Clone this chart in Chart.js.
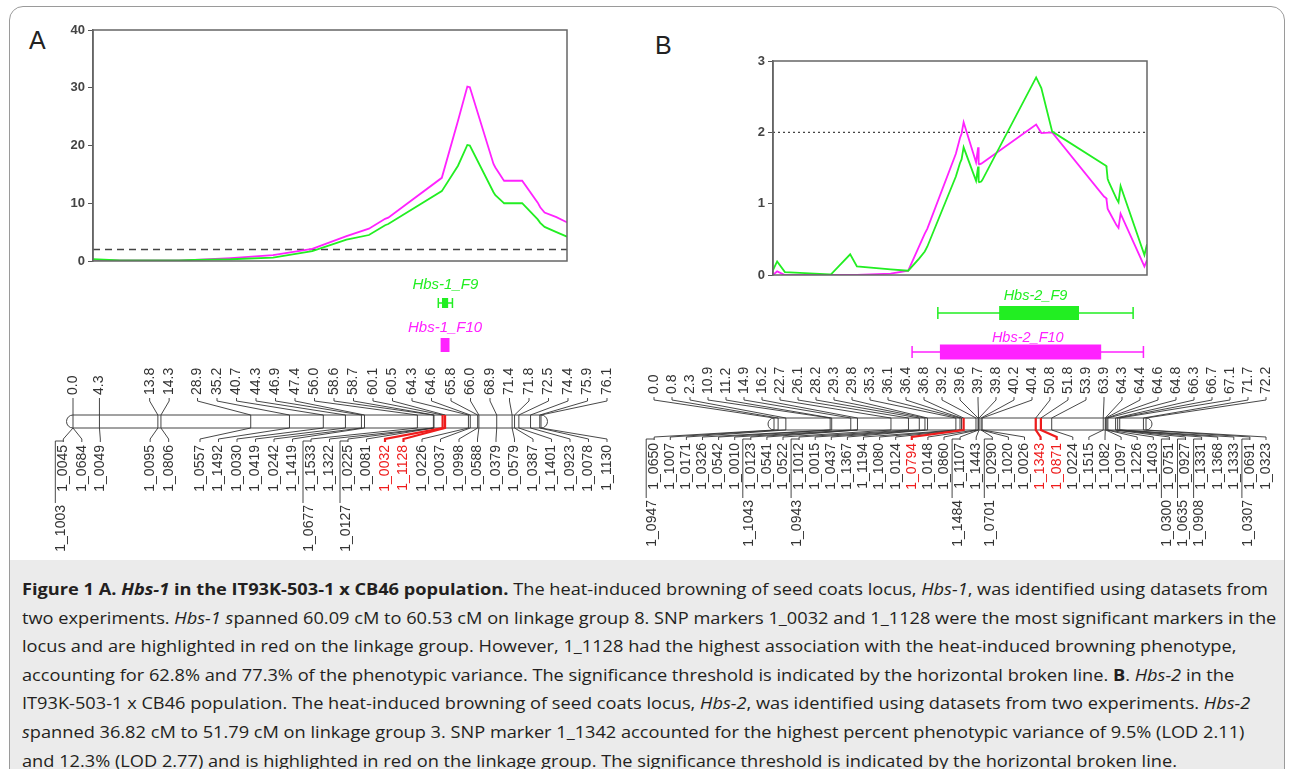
<!DOCTYPE html>
<html>
<head>
<meta charset="utf-8">
<script src="https://cdn.jsdelivr.net/npm/chart.js@4.4.1/dist/chart.umd.min.js"></script>
<style>
  html, body { margin: 0; padding: 0; width: 1290px; height: 769px; overflow: hidden; background: #fff; }
  .wrap { position: absolute; }
  #frame { position: absolute; left: 9px; top: 6px; width: 1274px; height: 800px; border: 1px solid #9a9a9a; border-radius: 14px; pointer-events: none; }
  #capbg { position: absolute; left: 10px; top: 560px; width: 1274px; height: 230px; background: #ebebeb; }
  #captext { position: absolute; left: 22px; top: 575px; font-family: "Open Sans", sans-serif; font-size: 16.5px; line-height: 28.6px; color: #231f20; white-space: nowrap; transform-origin: 0 0; }
  #captext div { display: block; }
  #captext span.l { display: inline-block; }
  .panel { position: absolute; font-family: Arial, "Liberation Sans", sans-serif; font-size: 25px; color: #222; }
</style>
</head>
<body>
<div id="capbg"></div>
<div class="panel" style="left:29px;top:26px;">A</div>
<div class="panel" style="left:655px;top:31px;">B</div>
<div class="wrap" style="left:0;top:0;width:600px;height:290px;"><canvas id="lodA"></canvas></div>
<div class="wrap" style="left:640px;top:0;width:540px;height:300px;"><canvas id="lodB"></canvas></div>
<div class="wrap" style="left:0;top:270px;width:640px;height:290px;"><canvas id="mapA"></canvas></div>
<div class="wrap" style="left:640px;top:270px;width:650px;height:290px;"><canvas id="mapB"></canvas></div>
<div id="captext">
  <div><span class="l" id="line1"><b>Figure 1 A. <i>Hbs-1</i> in the IT93K-503-1 x CB46 population.</b> The heat-induced browning of seed coats locus, <i>Hbs-1</i>, was identified using datasets from</span></div>
  <div>two experiments. <i>Hbs-1 s</i>panned 60.09 cM to 60.53 cM on linkage group 8. SNP markers 1_0032 and 1_1128 were the most significant markers in the</div>
  <div>locus and are highlighted in red on the linkage group. However, 1_1128 had the highest association with the heat-induced browning phenotype,</div>
  <div>accounting for 62.8% and 77.3% of the phenotypic variance. The significance threshold is indicated by the horizontal broken line. <b>B</b>. <i>Hbs-2</i> in the</div>
  <div>IT93K-503-1 x CB46 population. The heat-induced browning of seed coats locus, <i>Hbs-2</i>, was identified using datasets from two experiments. <i>Hbs-2</i></div>
  <div><i>s</i>panned 36.82 cM to 51.79 cM on linkage group 3. SNP marker 1_1342 accounted for the highest percent phenotypic variance of 9.5% (LOD 2.11)</div>
  <div>and 12.3% (LOD 2.77) and is highlighted in red on the linkage group. The significance threshold is indicated by the horizontal broken line.</div>
</div>
<div id="frame"></div>

<script>
// ---- Panel A: Hbs-1 on linkage group 8 ----
const lodCmA  = [0, 4.3, 13.8, 16.3, 22.1, 28.9, 35.2, 40.7, 44.3, 46.9, 47.4, 56.0, 58.6, 60.1, 60.5, 64.3, 64.6, 65.8, 66.0, 68.9, 71.4, 71.8, 72.5, 74.4, 75.9, 76.1];
const lodF9A  = [0.3, 0.1, 0.1, 0.2, 0.3, 0.6, 1.7, 3.7, 4.5, 6.2, 6.4, 12.1, 16.5, 20.1, 20.0, 11.9, 11.4, 10.2, 10.0, 10.0, 7.2, 6.6, 5.9, 5.0, 4.3, 4.2];
const lodF10A = [0.2, 0.1, 0.1, 0.2, 0.5, 1.0, 2.1, 4.3, 5.6, 7.3, 7.5, 14.4, 24.3, 30.2, 30.1, 16.8, 16.2, 14.2, 13.9, 13.9, 10.1, 9.3, 8.4, 7.6, 6.8, 6.7];
const thresholdA = 2;
const yMaxA = 40, yStepA = 10;

const posA = [0.0, 4.3, 13.8, 14.3, 28.9, 35.2, 40.7, 44.3, 46.9, 47.4, 56.0, 58.6, 58.7, 60.1, 60.5, 64.3, 64.6, 65.8, 66.0, 68.9, 71.4, 71.8, 72.5, 74.4, 75.9, 76.1];
const markersA = ['1_0045', '1_0684', '1_0049', '1_0095', '1_0806', '1_0557', '1_1492', '1_0030', '1_0419', '1_0242', '1_1419', '1_1533', '1_1322', '1_0225', '1_0081', '1_0032', '1_1128', '1_0226', '1_0037', '1_0998', '1_0588', '1_0379', '1_0579', '1_0387', '1_1401', '1_0923', '1_0078', '1_1130'];
const markerCmA = [0.0, 0.0, 4.3, 13.8, 14.3, 28.9, 35.2, 40.7, 44.3, 46.9, 47.4, 56.0, 58.6, 58.7, 58.7, 60.1, 60.5, 64.3, 64.6, 65.8, 66.0, 68.9, 71.4, 71.8, 72.5, 74.4, 75.9, 76.1];
const extraA = ['1_1003', '1_0677', '1_0127'];
const extraCmA = [0.0, 56.0, 58.7];
const redA = ['1_0032', '1_1128'];
// QTL interval: whisker start, box start, box end, whisker end (cM)
const qtlF9A = [59.4, 60.0, 61.0, 61.7];
const qtlF10A = [59.9, 59.9, 61.1, 61.1];

// ---- Panel B: Hbs-2 on linkage group 3 ----
const cmB = [0.0, 0.8, 2.3, 10.9, 11.2, 14.9, 16.2, 22.7, 26.1, 28.2, 29.3, 29.8, 35.3, 36.1, 36.4, 36.8, 39.2, 39.6, 39.7, 39.8, 40.2, 40.4, 50.8, 51.8, 53.9, 63.9, 64.3, 64.4, 64.6, 64.8, 66.3, 66.7, 67.1, 71.7, 72.2];
const lodF9B  = [0.07, 0.19, 0.04, 0.01, 0.01, 0.29, 0.12, 0.08, 0.06, 0.23, 0.33, 0.40, 1.38, 1.57, 1.62, 1.79, 1.32, 1.52, 1.31, 1.30, 1.31, 1.33, 2.77, 2.62, 2.01, 1.55, 1.53, 1.50, 1.35, 1.31, 1.07, 1.02, 1.25, 0.28, 0.43];
const lodF10B = [0.00, 0.05, 0.00, 0.00, 0.00, 0.00, 0.00, 0.02, 0.06, 0.40, 0.58, 0.65, 1.70, 1.92, 1.98, 2.14, 1.58, 1.79, 1.56, 1.55, 1.56, 1.57, 2.11, 1.99, 2.00, 1.10, 1.08, 1.05, 0.93, 0.90, 0.70, 0.66, 0.86, 0.12, 0.21];
const thresholdB = 2;
const yMaxB = 3, yStepB = 1;

const markersB = ['1_0650', '1_1007', '1_0171', '1_0326', '1_0542', '1_0010', '1_0123', '1_0541', '1_0522', '1_1012', '1_0015', '1_0437', '1_1367', '1_1194', '1_1080', '1_0124', '1_0794', '1_0148', '1_0860', '1_1107', '1_1443', '1_0290', '1_1020', '1_0026', '1_1343', '1_0871', '1_0224', '1_1515', '1_1082', '1_1097', '1_1226', '1_1403', '1_0751', '1_0927', '1_1331', '1_1368', '1_1333', '1_0691', '1_0323'];
const markerCmB = [0.0, 0.8, 2.3, 10.9, 11.2, 14.9, 16.2, 16.2, 22.7, 26.1, 28.2, 29.3, 29.8, 35.3, 36.1, 36.4, 36.8, 39.2, 39.6, 39.7, 39.8, 40.2, 40.2, 40.4, 50.8, 51.8, 53.9, 63.9, 64.3, 64.4, 64.6, 64.8, 66.3, 66.3, 66.7, 67.1, 67.1, 71.7, 72.2];
const extraB = ['1_0947', '1_1043', '1_0943', '1_1484', '1_0701', '1_0300', '1_0635', '1_0908', '1_0307'];
const extraCmB = [0.0, 16.2, 26.1, 39.7, 40.2, 66.3, 66.3, 66.7, 71.7];
const redB = ['1_0794', '1_1343', '1_0871'];
const qtlF9B = [31.8, 43.7, 59.2, 69.7];
const qtlF10B = [26.8, 32.2, 63.5, 71.7];

const GREEN = '#22ee22';
const MAGENTA = '#ff22ff';
const RED = '#ee1c1c';
const INK = '#333';

// box round the plot area
const plotFrame = {
  id: 'plotFrame',
  afterDatasetsDraw(chart) {
    const a = chart.chartArea, ctx = chart.ctx;
    ctx.save();
    ctx.strokeStyle = '#666';
    ctx.lineWidth = 1.5;
    ctx.strokeRect(a.left, a.top, a.right - a.left, a.bottom - a.top);
    ctx.restore();
  }
};

function lodChart(id, cm, f9, f10, thr, yMax, yStep, dash, pad) {
  const pts = arr => cm.map((x, i) => ({ x: x, y: arr[i] }));
  return new Chart(document.getElementById(id), {
    type: 'line',
    data: {
      datasets: [
        { data: pts(f9), borderColor: GREEN, borderWidth: 1.8, pointRadius: 0, tension: 0 },
        { data: pts(f10), borderColor: MAGENTA, borderWidth: 1.8, pointRadius: 0, tension: 0 },
        { data: [{ x: cm[0], y: thr }, { x: cm[cm.length - 1], y: thr }], borderColor: '#444', borderDash: dash, borderWidth: 1.4, pointRadius: 0 }
      ]
    },
    options: {
      responsive: true, maintainAspectRatio: false, animation: false, devicePixelRatio: 1,
      layout: { padding: pad },
      scales: {
        x: { type: 'linear', min: cm[0], max: cm[cm.length - 1], display: false },
        y: {
          min: 0, max: yMax,
          ticks: { stepSize: yStep, color: '#444', padding: 3, font: { family: 'Arial', size: 13, weight: 'bold' } },
          grid: { display: true, drawOnChartArea: false, drawTicks: true, tickLength: 5, color: '#555' },
          border: { display: true, color: '#666', width: 1.5 },
          afterFit(s) { s.width = 40; }
        }
      },
      plugins: { legend: { display: false }, tooltip: { enabled: false } }
    },
    plugins: [plotFrame]
  });
}

// push overlapping label columns apart, clusters centred on their markers
function spread(nat, gap, lo, hi) {
  let cl = nat.map(p => ({ n: 1, sum: p }));
  const start = c => Math.min(Math.max(c.sum / c.n - (c.n - 1) * gap / 2, lo), hi - (c.n - 1) * gap);
  let merged = true;
  while (merged) {
    merged = false;
    for (let k = 0; k < cl.length - 1; k++) {
      if (start(cl[k + 1]) - (start(cl[k]) + (cl[k].n - 1) * gap) < gap) {
        cl.splice(k, 2, { n: cl[k].n + cl[k + 1].n, sum: cl[k].sum + cl[k + 1].sum });
        merged = true;
        break;
      }
    }
  }
  const out = [];
  cl.forEach(c => { const s = start(c); for (let i = 0; i < c.n; i++) out.push(s + i * gap); });
  return out;
}

function vtext(ctx, s, x, y, align, color) {
  ctx.save();
  ctx.translate(x, y);
  ctx.rotate(-Math.PI / 2);
  ctx.textAlign = align;
  ctx.textBaseline = 'middle';
  ctx.fillStyle = color;
  ctx.fillText(s, 0, 0);
  ctx.restore();
}

function linkageMap(spec) {
  return {
    id: 'linkageMap',
    afterDraw(chart) {
      const ctx = chart.ctx, xs = chart.scales.x;
      const px = v => xs.getPixelForValue(v);
      const L = spec.layout;
      ctx.save();

      // QTL intervals
      spec.qtl.forEach(q => {
        const [w0, b0, b1, w1] = q.cm;
        ctx.strokeStyle = q.color;
        ctx.fillStyle = q.color;
        ctx.lineWidth = 1.5;
        ctx.beginPath();
        ctx.moveTo(px(w0), q.y); ctx.lineTo(px(w1), q.y);
        ctx.moveTo(px(w0), q.y - q.cap); ctx.lineTo(px(w0), q.y + q.cap);
        ctx.moveTo(px(w1), q.y - q.cap); ctx.lineTo(px(w1), q.y + q.cap);
        ctx.stroke();
        ctx.fillRect(px(b0), q.y - q.h / 2, Math.max(px(b1) - px(b0), 3), q.h);
        ctx.font = 'italic ' + spec.qtlFont + 'px Arial';
        ctx.textAlign = 'center';
        ctx.textBaseline = 'middle';
        ctx.fillText(q.name, (px(w0) + px(w1)) / 2, q.labelY);
      });

      // chromosome bar
      const x0 = px(spec.pos[0]), x1 = px(spec.pos[spec.pos.length - 1]);
      const r = (L.barBot - L.barTop) / 2;
      ctx.strokeStyle = '#444';
      ctx.lineWidth = 1;
      ctx.beginPath();
      ctx.roundRect(x0 - r, L.barTop, x1 - x0 + 2 * r, L.barBot - L.barTop, r);
      ctx.stroke();
      ctx.beginPath();
      spec.pos.forEach(p => { ctx.moveTo(px(p), L.barTop); ctx.lineTo(px(p), L.barBot); });
      ctx.stroke();

      ctx.font = spec.font + 'px Arial';

      // positions above the bar
      const topX = spread(spec.pos.map(px), spec.gapTop, spec.lo, spec.hi);
      ctx.strokeStyle = INK;
      ctx.lineWidth = 0.9;
      spec.pos.forEach((p, i) => {
        ctx.beginPath();
        ctx.moveTo(topX[i], L.topText + 3);
        ctx.lineTo(topX[i], L.topText + 6);
        ctx.lineTo(px(p), L.barTop);
        ctx.stroke();
        vtext(ctx, p.toFixed(1), topX[i], L.topText, 'left', INK);
      });

      // marker names below the bar
      const botX = spread(spec.cm.map(px), spec.gapBot, spec.lo, spec.hi);
      spec.names.forEach((name, i) => {
        const red = spec.red.includes(name);
        ctx.strokeStyle = red ? RED : INK;
        ctx.lineWidth = red ? 2.2 : 0.9;
        ctx.beginPath();
        ctx.moveTo(px(spec.cm[i]), red ? L.barTop : L.barBot);
        ctx.lineTo(px(spec.cm[i]), L.barBot);
        ctx.lineTo(botX[i], L.botText - 6);
        ctx.lineTo(botX[i], L.botText - 3);
        ctx.stroke();
        vtext(ctx, name, botX[i], L.botText, 'right', red ? RED : INK);
      });

      // second row for markers sharing a position
      const used = {};
      spec.extra.forEach((name, j) => {
        const c = spec.extraCm[j];
        const k = used[c] || 0;
        used[c] = k + 1;
        const idx = spec.cm.findIndex((v, i) => v === c && spec.cm.slice(0, i).filter(w => w === c).length === k);
        const ux = botX[idx];
        ctx.strokeStyle = INK;
        ctx.lineWidth = 0.9;
        ctx.beginPath();
        ctx.moveTo(ux - 8, L.lowText - 2);
        ctx.lineTo(ux - 8, L.botText - 4);
        ctx.lineTo(ux, L.botText - 4);
        ctx.stroke();
        vtext(ctx, name, ux - 2, L.lowText, 'right', INK);
      });
      ctx.restore();
    }
  };
}

function mapChart(id, spec, pad) {
  return new Chart(document.getElementById(id), {
    type: 'scatter',
    data: { datasets: [{ data: spec.pos.map(p => ({ x: p, y: 0 })), pointRadius: 0 }] },
    options: {
      responsive: true, maintainAspectRatio: false, animation: false, devicePixelRatio: 1,
      layout: { padding: pad },
      scales: {
        x: { type: 'linear', min: spec.pos[0], max: spec.pos[spec.pos.length - 1], display: false },
        y: { min: 0, max: 1, display: false }
      },
      plugins: { legend: { display: false }, tooltip: { enabled: false } }
    },
    plugins: [linkageMap(spec)]
  });
}

lodChart('lodA', lodCmA, lodF9A, lodF10A, thresholdA, yMaxA, yStepA, [7, 5], { left: 53, top: 30, right: 33, bottom: 29 });
lodChart('lodB', cmB, lodF9B, lodF10B, thresholdB, yMaxB, yStepB, [2, 3], { left: 93, top: 61, right: 33, bottom: 25 });

mapChart('mapA', {
  pos: posA, names: markersA, cm: markerCmA, extra: extraA, extraCm: extraCmA, red: redA,
  qtl: [
    { name: 'Hbs-1_F9', cm: qtlF9A, color: GREEN, y: 33, h: 10, cap: 5, labelY: 15 },
    { name: 'Hbs-1_F10', cm: qtlF10A, color: MAGENTA, y: 75, h: 14, cap: 7, labelY: 58 }
  ],
  qtlFont: 15, font: 14, gapTop: 19.5, gapBot: 18.5, lo: 55, hi: 607,
  layout: { topText: 125, barTop: 145, barBot: 158, botText: 175, lowText: 235 }
}, { left: 73, right: 99, top: 0, bottom: 0 });

mapChart('mapB', {
  pos: cmB, names: markersB, cm: markerCmB, extra: extraB, extraCm: extraCmB, red: redB,
  qtl: [
    { name: 'Hbs-2_F9', cm: qtlF9B, color: GREEN, y: 43, h: 14, cap: 6, labelY: 26 },
    { name: 'Hbs-2_F10', cm: qtlF10B, color: MAGENTA, y: 82, h: 15, cap: 6, labelY: 68 }
  ],
  qtlFont: 14.5, font: 14, gapTop: 18, gapBot: 16.1, lo: 10, hi: 626,
  layout: { topText: 124, barTop: 148, barBot: 160, botText: 173, lowText: 230 }
}, { left: 134, right: 144, top: 0, bottom: 0 });

// fit caption width to the reference line length
const w1 = document.getElementById('line1').getBoundingClientRect().width;
document.getElementById('captext').style.transform = 'scaleX(' + (1246 / w1).toFixed(4) + ')';
</script>
</body>
</html>
